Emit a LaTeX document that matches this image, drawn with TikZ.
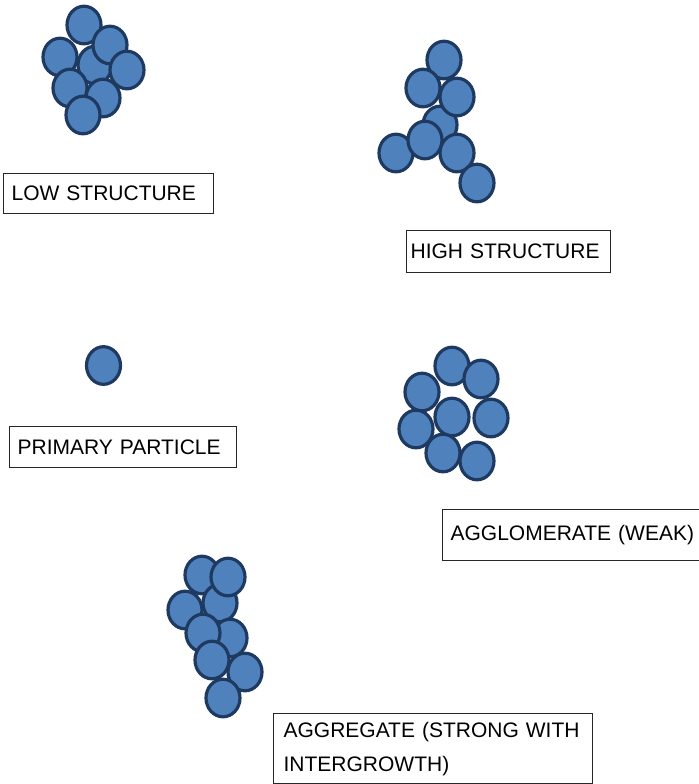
\documentclass[tikz,border=0pt]{standalone}
\usepackage{fontspec}
\setmainfont{Liberation Sans}
\usepackage{tikz}
\usepackage{xcolor}

\definecolor{particlefill}{HTML}{4F81BD}
\definecolor{particleedge}{HTML}{1F3A60}

\tikzset{
  particle/.style={fill=particlefill,draw=particleedge,line width=1.6pt},
  labelbox/.style={draw=black!85,line width=0.6pt,anchor=north west,align=left,
    inner xsep=4pt,inner ysep=0pt,font=\fontsize{10.5}{17}\selectfont,
    execute at begin node={\hyphenpenalty=10000}}
}
\newcommand{\grain}[2]{\path[particle] (#1,#2) ellipse [x radius=17,y radius=18.8];}

\begin{document}
\begin{tikzpicture}[x=0.5pt,y=-0.5pt]
  \useasboundingbox (0,0) rectangle (699,784);
  % low structure: compact cluster
  \foreach \x/\y in {95/65,84/25,110/45,127/70,60/57,103/98,70/88,83/115} {\grain{\x}{\y}}
  % high structure: branched chain
  \foreach \x/\y in {440/125,444/60,423/88,457/97,396/153,425/140,457/153,477/183} {\grain{\x}{\y}}
  % single primary particle
  \grain{103.5}{365.5}
  % weak agglomerate: loosely touching
  \foreach \x/\y in {452/366,481/379,422/392,452/417,491/418,416/429,443/453,477/461} {\grain{\x}{\y}}
  % aggregate: fused chain
  \foreach \x/\y in {202/575,185/610,220/603,228/577,230/638,203/633,245/672,212/660,223/698} {\grain{\x}{\y}}

  \node[labelbox,text width=97pt,minimum height=20pt] (lowlbl) at (3,173) {LOW STRUCTURE};
  \node[labelbox,inner xsep=2pt,text width=98pt,minimum height=21pt] (highlbl) at (406,230) {HIGH STRUCTURE};
  \node[labelbox,text width=105.5pt,minimum height=20.5pt] (primlbl) at (9,426) {PRIMARY PARTICLE};
  \node[labelbox,text width=131pt,minimum height=25.5pt] (agglbl) at (442,509) {AGGLOMERATE (WEAK)};
  \node[labelbox,inner xsep=5pt,text width=149.5pt,minimum height=35pt] (agglbl2) at (273,713) {AGGREGATE (STRONG WITH\\INTERGROWTH)};
\end{tikzpicture}
\end{document}
